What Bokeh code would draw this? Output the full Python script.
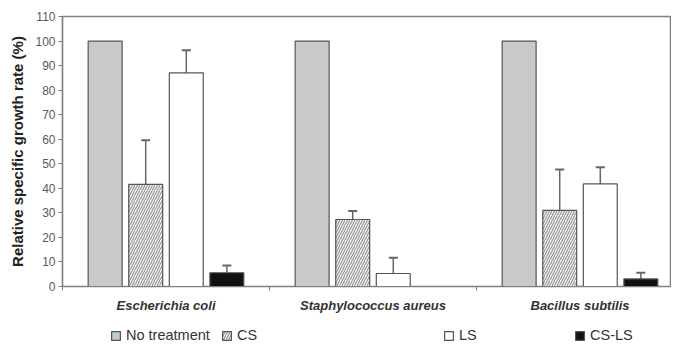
from bokeh.plotting import figure
from bokeh.layouts import column
from bokeh.models import (Range1d, FixedTicker, Legend, LegendItem, Whisker,
                          ColumnDataSource, TeeHead)
from bokeh.embed import file_html
from bokeh.resources import INLINE

species = ["Escherichia coli", "Staphylococcus aureus", "Bacillus subtilis"]
treatments = ["No treatment", "CS", "LS", "CS-LS"]
values = {
    "No treatment": [100, 100, 100],
    "CS": [41.6, 27.3, 31.0],
    "LS": [87.0, 5.3, 41.8],
    "CS-LS": [5.6, 0.0, 3.1],
}
errors = {
    "No treatment": [0, 0, 0],
    "CS": [18.0, 3.5, 16.7],
    "LS": [9.2, 6.4, 6.8],
    "CS-LS": [3.0, 0.0, 2.5],
}
y_ticks = [0, 10, 20, 30, 40, 50, 60, 70, 80, 90, 100, 110]

styles = {
    "No treatment": dict(fill_color="#c9c9c9", hatch_pattern=None),
    "CS": dict(fill_color="white", hatch_pattern="/"),
    "LS": dict(fill_color="white", hatch_pattern=None),
    "CS-LS": dict(fill_color="#111111", hatch_pattern=None),
}

FONT = "Liberation Sans"
W = 671
H_MAIN, H_LEG = 320, 25
LEFT = 62
XEND = (W - LEFT) / 207.0
p = figure(width=W, height=H_MAIN, output_backend="svg", toolbar_location=None,
           x_range=Range1d(0, XEND), y_range=Range1d(0, 110),
           min_border_left=LEFT, min_border_right=0, min_border_top=16,
           min_border_bottom=H_MAIN - 286)
p.xgrid.visible = False
p.ygrid.visible = False
p.outline_line_color = "#808080"
p.outline_line_width = 1.5

step = 0.196
bw = 0.164


def bar_kwargs(t):
    st = styles[t]
    kw = dict(line_color="#555555", line_width=1.2, fill_color=st["fill_color"])
    if st["hatch_pattern"]:
        kw.update(hatch_pattern=st["hatch_pattern"], hatch_color="#999999",
                  hatch_scale=5, hatch_weight=1.3)
    return kw


for i, t in enumerate(treatments):
    xs = [k + 0.5 + (i - 1.5) * step for k in range(len(species))]
    src = ColumnDataSource(dict(x=xs, top=values[t]))
    p.vbar(x="x", top="top", width=bw, bottom=0, source=src, **bar_kwargs(t))
    if any(e > 0 for e in errors[t]):
        esrc = ColumnDataSource(dict(
            x=[x for x, e in zip(xs, errors[t]) if e > 0],
            top=[v for v, e in zip(values[t], errors[t]) if e > 0],
            upper=[v + e for v, e in zip(values[t], errors[t]) if e > 0]))
        w = Whisker(base="x", lower="top", upper="upper", source=esrc,
                    dimension="height", line_color="#666666", line_width=1.5,
                    upper_head=TeeHead(size=9, line_color="#666666", line_width=2),
                    lower_head=None, level="underlay")
        p.add_layout(w)

# axes
p.yaxis.ticker = FixedTicker(ticks=y_ticks)
p.yaxis.axis_line_color = "#808080"
p.yaxis.axis_line_width = 1.2
p.yaxis.major_tick_line_color = "#808080"
p.yaxis.major_tick_in = 0
p.yaxis.major_tick_out = 4
p.yaxis.minor_tick_line_color = None
p.yaxis.major_label_text_font = FONT
p.yaxis.major_label_text_font_size = "12px"
p.yaxis.major_label_text_color = "#5a5a5a"
p.yaxis.major_label_standoff = 3
p.yaxis.axis_label = "Relative specific growth rate (%)"
p.yaxis.axis_label_text_font = FONT
p.yaxis.axis_label_text_font_style = "bold"
p.yaxis.axis_label_text_font_size = "15px"
p.yaxis.axis_label_text_color = "#222222"
p.yaxis.axis_label_standoff = 6

p.xaxis.ticker = FixedTicker(ticks=[k + 0.5 for k in range(len(species))],
                             minor_ticks=list(range(len(species) + 1)))
p.xaxis.major_label_overrides = {k + 0.5: s for k, s in enumerate(species)}
p.xaxis.axis_line_color = "#808080"
p.xaxis.axis_line_width = 1.2
p.xaxis.major_tick_line_color = None
p.xaxis.minor_tick_line_color = "#808080"
p.xaxis.minor_tick_in = 0
p.xaxis.minor_tick_out = 4
p.xaxis.major_label_text_font = FONT
p.xaxis.major_label_text_font_style = "bold italic"
p.xaxis.major_label_text_font_size = "13px"
p.xaxis.major_label_text_color = "#333333"
p.xaxis.major_label_standoff = 5

# legend strip below the chart (same frame geometry as the chart)
lf = figure(width=W, height=H_LEG, output_backend="svg", toolbar_location=None,
            x_range=Range1d(0, XEND), y_range=Range1d(0, 1),
            min_border_left=LEFT, min_border_right=0, min_border_top=0,
            min_border_bottom=0, outline_line_color=None)
lf.axis.visible = False
lf.grid.visible = False
leg_x = [48, 159, 381, 512]
for t, lx in zip(treatments, leg_x):
    r = lf.vbar(x=[10], top=[0], width=0.1, **bar_kwargs(t))
    lg = Legend(items=[LegendItem(label=t, renderers=[r])],
                location=(lx, 2), orientation="horizontal",
                border_line_color=None, background_fill_alpha=0,
                glyph_width=11, glyph_height=11, label_standoff=5,
                padding=0, margin=0, label_height=15,
                label_text_font=FONT, label_text_font_size="14.5px",
                label_text_color="#333333")
    lf.add_layout(lg, "center")

open("out.html", "w").write(file_html(column(p, lf, spacing=0), INLINE))
